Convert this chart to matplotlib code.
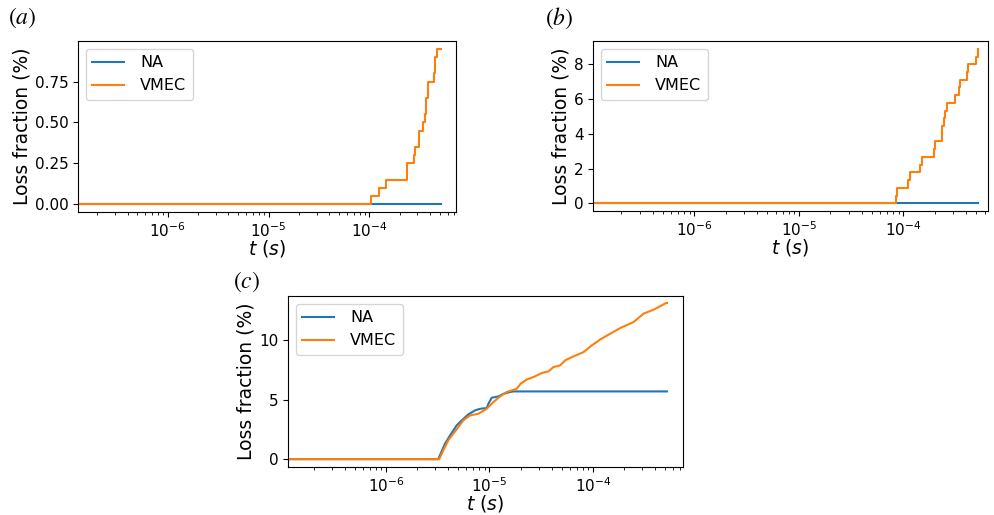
import numpy as np
import matplotlib.pyplot as plt

T_START = 1e-9
T_END = 5.2e-4

# (a) lost-particle steps (s, %)
t_a = [1.05e-4, 1.26e-4, 1.45e-4, 2.34e-4, 2.77e-4, 2.86e-4, 3.09e-4,
       3.41e-4, 3.55e-4, 3.69e-4, 3.83e-4, 4.37e-4, 4.47e-4, 4.71e-4]
loss_a = [0.05, 0.10, 0.15, 0.25, 0.30, 0.35, 0.45,
          0.50, 0.55, 0.65, 0.75, 0.80, 0.90, 0.95]

# (b) lost-particle steps (s, %)
t_b = [8.44e-5, 8.77e-5, 1.10e-4, 1.16e-4, 1.44e-4, 1.51e-4, 1.96e-4,
       2.03e-4, 2.35e-4, 2.44e-4, 2.50e-4, 2.64e-4, 3.11e-4, 3.39e-4,
       3.51e-4, 4.10e-4, 4.16e-4, 4.99e-4, 5.18e-4]
loss_b = [0.44, 0.89, 1.33, 1.78, 2.22, 2.67, 3.11,
          3.56, 4.44, 4.89, 5.33, 5.78, 6.22, 6.67,
          7.11, 7.56, 8.00, 8.44, 8.89]

# (c) near-axis vs VMEC loss curves
t_c_na = [3.20e-6, 3.72e-6, 4.17e-6, 4.82e-6, 5.40e-6, 6.25e-6, 7.24e-6,
          8.13e-6, 9.42e-6, 9.77e-6, 1.052e-5, 1.219e-5, 1.365e-5,
          1.585e-5, 1.70e-5]
loss_c_na = [0.0, 1.3, 2.0, 2.84, 3.26, 3.76, 4.1,
             4.24, 4.3, 4.66, 5.17, 5.28, 5.5,
             5.65, 5.7]
t_c_vmec = [3.27e-6, 3.58e-6, 4.0e-6, 4.47e-6, 5.01e-6, 5.58e-6, 6.49e-6,
            7.82e-6, 9.42e-6, 1.09e-5, 1.27e-5, 1.47e-5, 1.84e-5, 2.0e-5,
            2.30e-5, 2.66e-5, 3.21e-5, 3.72e-5, 4.16e-5, 4.82e-5, 5.40e-5,
            6.49e-5, 8.11e-5, 9.77e-5, 1.18e-4, 1.47e-4, 1.84e-4, 2.47e-4,
            3.09e-4, 3.86e-4, 5.09e-4]
loss_c_vmec = [0.0, 0.73, 1.58, 2.14, 2.7, 3.26, 3.68,
               3.82, 4.24, 4.8, 5.28, 5.65, 5.93, 6.35,
               6.71, 6.91, 7.25, 7.39, 7.75, 7.89, 8.32,
               8.65, 9.01, 9.58, 10.08, 10.56, 11.04, 11.54,
               12.25, 12.58, 13.14]


def padded(t, loss):
    # extend each series back to the start and forward to the end of the run
    tt = np.concatenate([[T_START], t, [T_END]])
    yy = np.concatenate([[0.0], loss, [loss[-1]]])
    return tt, yy


W, H = 995, 515
fig = plt.figure(figsize=(W / 100, H / 100), dpi=100)


def make_ax(left, right, top, bottom):
    return fig.add_axes([left / W, 1 - bottom / H, (right - left) / W, (bottom - top) / H])


ax_a = make_ax(78, 456, 41, 212)
ax_b = make_ax(593, 988, 41, 211)
ax_c = make_ax(288, 683, 296, 467)

tt, yy = padded(t_a, loss_a)
ax_a.plot([T_START, T_END], [0, 0], color='C0', lw=1.5, label='NA')
ax_a.step(tt, yy, where='post', color='C1', lw=1.5, label='VMEC')
ax_a.set_ylim(-0.0475, 0.9975)
ax_a.set_yticks([0, 0.25, 0.5, 0.75])
ax_a.set_yticklabels(['0.00', '0.25', '0.50', '0.75'])

tt, yy = padded(t_b, loss_b)
ax_b.plot([T_START, T_END], [0, 0], color='C0', lw=1.5, label='NA')
ax_b.step(tt, yy, where='post', color='C1', lw=1.5, label='VMEC')
ax_b.set_ylim(-0.445, 9.34)
ax_b.set_yticks([0, 2, 4, 6, 8])

tt, yy = padded(t_c_na, loss_c_na)
ax_c.plot(tt, yy, color='C0', lw=1.5, label='NA')
tt, yy = padded(t_c_vmec, loss_c_vmec)
ax_c.plot(tt, yy, color='C1', lw=1.5, label='VMEC')
ax_c.set_ylim(-0.66, 13.73)
ax_c.set_yticks([0, 5, 10])

panels = [(ax_a, '(a)', (22, 18), (-6.89, -3.14)),
          (ax_b, '(b)', (559, 18), (-6.97, -3.19)),
          (ax_c, '(c)', (247, 282), (-6.946, -3.13))]
for ax, tag, (tx, ty), (lo, hi) in panels:
    ax.set_xscale('log')
    ax.set_xlim(10 ** lo, 10 ** hi)
    ax.set_xlabel('$t$ $(s)$', fontsize=13.5, labelpad=-1)
    ax.set_ylabel('Loss fraction (%)', fontsize=13.5, labelpad=3)
    ax.tick_params(labelsize=11, pad=3)
    ax.legend(loc='upper left', fontsize=11.5, handlelength=2.0, handletextpad=1.0)
    fig.text(tx / W, 1 - ty / H, '$' + tag + '$', fontsize=17, math_fontfamily='stix',
             ha='center', va='center')

fig.savefig('out.png', dpi=100)
